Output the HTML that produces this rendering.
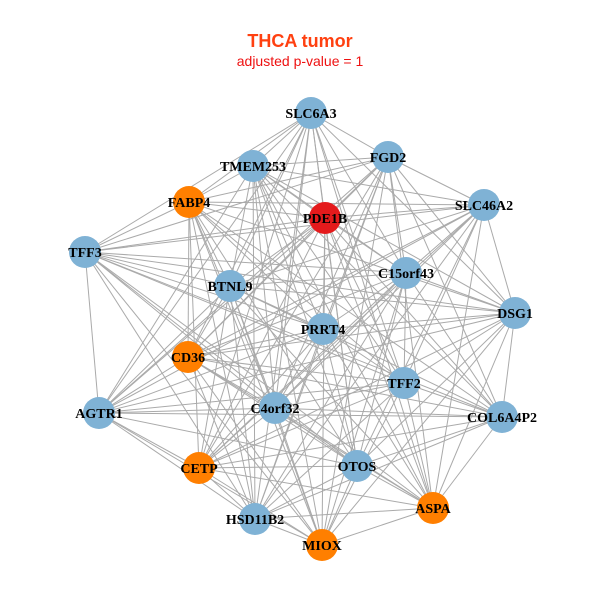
<!DOCTYPE html>
<html><head><meta charset="utf-8"><style>
html,body{margin:0;padding:0;background:#fff;width:600px;height:600px;overflow:hidden}
text{font-family:"Liberation Serif",serif;font-weight:bold;font-size:14px}
</style></head><body>
<svg id="s" width="600" height="600" xmlns="http://www.w3.org/2000/svg">
<text x="300" y="47" text-anchor="middle" style="font-family:'Liberation Sans',sans-serif;font-size:18px;font-weight:bold" fill="#ff4010">THCA tumor</text>
<text x="300" y="66" text-anchor="middle" style="font-family:'Liberation Sans',sans-serif;font-size:14px;font-weight:normal" fill="#ee1111">adjusted p-value = 1</text>
<g id="e" stroke="#aaaaaa" stroke-width="1"></g>
<g id="n"></g>
</svg>
<script>
var N=[["SLC6A3",311,113,"b"],["TMEM253",253,166,"b"],["FGD2",388,157,"b"],["FABP4",189,202,"o"],["PDE1B",325,218,"r"],["SLC46A2",484,205,"b"],["TFF3",85,252,"b"],["BTNL9",230,286,"b"],["C15orf43",406,273,"b"],["DSG1",515,313,"b"],["PRRT4",323,329,"b"],["CD36",188,357,"o"],["TFF2",404,383,"b"],["AGTR1",99,413,"b"],["C4orf32",275,408,"b"],["COL6A4P2",502,417,"b"],["CETP",199,468,"o"],["OTOS",357,466,"b"],["ASPA",433,508,"o"],["HSD11B2",255,519,"b"],["MIOX",322,545,"o"]];
var C={b:"#7fb2d5",o:"#ff7f00",r:"#e41a1c"};
var ns="http://www.w3.org/2000/svg",e=document.getElementById("e"),g=document.getElementById("n");
for(var i=0;i<N.length;i++)for(var j=i+1;j<N.length;j++){
 if((i*7+j*3)%5==0)continue;
 var l=document.createElementNS(ns,"line");
 l.setAttribute("x1",N[i][1]);l.setAttribute("y1",N[i][2]);l.setAttribute("x2",N[j][1]);l.setAttribute("y2",N[j][2]);e.appendChild(l);}
N.forEach(function(d){
 var c=document.createElementNS(ns,"circle");c.setAttribute("cx",d[1]);c.setAttribute("cy",d[2]);c.setAttribute("r",16);c.setAttribute("fill",C[d[3]]);g.appendChild(c);
 var t=document.createElementNS(ns,"text");t.setAttribute("x",d[1]);t.setAttribute("y",d[2]+5);t.setAttribute("text-anchor","middle");t.textContent=d[0];g.appendChild(t);});
</script>
</body></html>
